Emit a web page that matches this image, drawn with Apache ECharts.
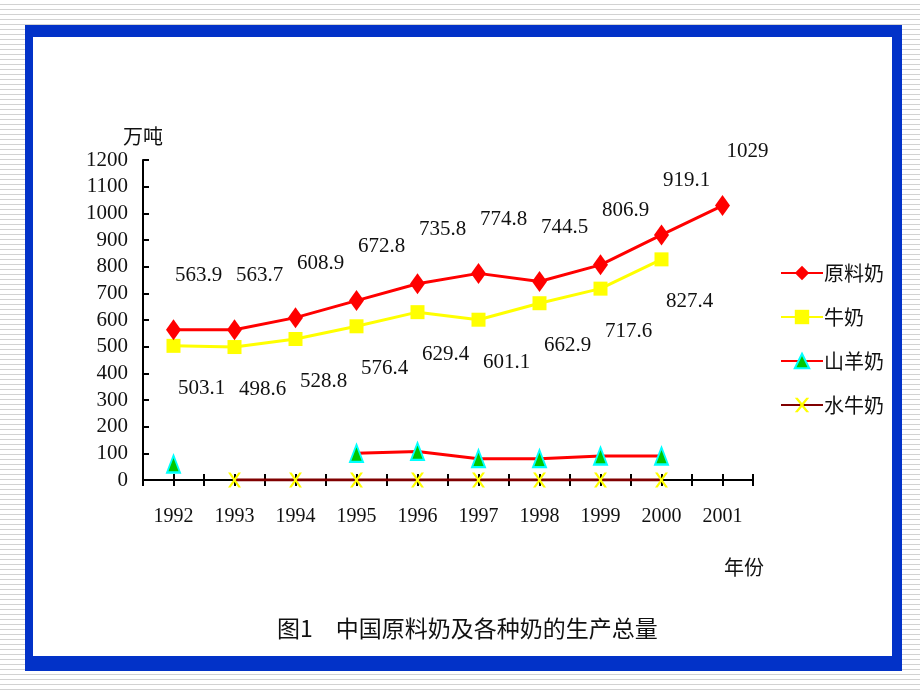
<!DOCTYPE html>
<html>
<head>
<meta charset="utf-8">
<style>
  html, body {
    margin: 0;
    padding: 0;
    width: 920px;
    height: 690px;
    overflow: hidden;
    background: repeating-linear-gradient(to bottom, #ffffff 0, #ffffff 4px, #d2d2d2 4px, #d2d2d2 5px);
  }
  .frame {
    position: absolute;
    left: 25px;
    top: 25px;
    width: 877px;
    height: 646px;
    background: #0232c8;
  }
  .paper {
    position: absolute;
    left: 33px;
    top: 37px;
    width: 859px;
    height: 619px;
    background: #ffffff;
  }
  .change {
    position: absolute;
    left: 0;
    top: 0;
    width: 920px;
    height: 690px;
  }
</style>
</head>
<body>
<div class="frame"></div>
<div class="paper"></div>
<div class="change"></div>
<script src="https://cdn.jsdelivr.net/npm/echarts/dist/echarts.min.js"></script>
<script>
// 年份
var years = ["1992", "1993", "1994", "1995", "1996", "1997", "1998", "1999", "2000", "2001"];
// 原料奶 (万吨)
var rawMilk = [563.9, 563.7, 608.9, 672.8, 735.8, 774.8, 744.5, 806.9, 919.1, 1029];
// 牛奶
var cowMilk = [503.1, 498.6, 528.8, 576.4, 629.4, 601.1, 662.9, 717.6, 827.4, null];
// 山羊奶
var goatMilk = [60, null, null, 100, 107, 80, 80, 90, 90, null];
// 水牛奶
var buffaloMilk = [null, 0, 0, 0, 0, 0, 0, 0, 0, null];
// 纵轴刻度
var yMin = 0, yMax = 1200, yStep = 100;

(function () {
  var myChart = echarts.init(document.querySelector(".change"));
  var numFont = "Liberation Serif";
  var cnFont = "Noto Sans CJK SC";
  var textColor = "#111111";
  // 叉形标记
  var crossPath = "path://M0,0 L2,0 L5,3.6 L8,0 L10,0 L6,5 L10,10 L8,10 L5,6.4 L2,10 L0,10 L4,5 Z";

  // 半格刻度用的辅助轴
  function tickAxis (inside) {
    return {
      type: "value",
      position: "bottom",
      min: 0,
      max: 20,
      interval: 1,
      axisLine: { show: false },
      axisLabel: { show: false },
      splitLine: { show: false },
      axisTick: {
        show: true,
        inside: inside,
        length: 6,
        lineStyle: { color: "#000", width: 2 }
      }
    };
  }

  var option = {
    animation: false,
    title: {
      text: "图1　中国原料奶及各种奶的生产总量",
      left: 272,
      top: 612,
      textStyle: {
        color: textColor,
        fontFamily: cnFont,
        fontWeight: "normal",
        fontSize: 23
      }
    },
    legend: {
      orient: "vertical",
      left: 775,
      top: 258,
      itemWidth: 42,
      itemHeight: 18,
      itemGap: 24,
      textStyle: {
        color: textColor,
        fontFamily: cnFont,
        fontSize: 20,
        padding: [0, 0, 0, -4]
      },
      data: ["原料奶", "牛奶", "山羊奶", "水牛奶"]
    },
    grid: {
      left: 143,
      top: 160,
      width: 610,
      height: 320
    },
    graphic: [{
      type: "text",
      left: 724,
      top: 557,
      style: {
        text: "年份",
        fill: textColor,
        font: "20px " + cnFont
      }
    }],
    xAxis: [{
      type: "category",
      boundaryGap: true,
      data: years,
      axisTick: { show: false },
      axisLine: {
        lineStyle: { color: "#000", width: 2 }
      },
      axisLabel: {
        color: textColor,
        fontFamily: numFont,
        fontSize: 20,
        margin: 27
      }
    }, tickAxis(false), tickAxis(true)],
    yAxis: {
      type: "value",
      min: yMin,
      max: yMax,
      interval: yStep,
      name: "万吨",
      nameGap: 14,
      nameTextStyle: {
        color: textColor,
        fontFamily: cnFont,
        fontSize: 20
      },
      axisLine: {
        show: true,
        lineStyle: { color: "#000", width: 2 }
      },
      axisTick: {
        show: true,
        inside: true,
        length: 6,
        lineStyle: { color: "#000", width: 2 }
      },
      axisLabel: {
        color: textColor,
        fontFamily: numFont,
        fontSize: 21,
        margin: 15,
        formatter: function (value) {
          return String(value);
        }
      },
      splitLine: { show: false }
    },
    series: [
      {
        name: "水牛奶",
        type: "line",
        data: buffaloMilk,
        symbol: crossPath,
        symbolSize: [13, 15],
        lineStyle: { color: "#800000", width: 3 },
        itemStyle: { color: "#ffff00" },
        z: 3
      },
      {
        name: "山羊奶",
        type: "line",
        data: goatMilk,
        symbol: "triangle",
        symbolSize: [13, 17],
        lineStyle: { color: "#ff0000", width: 3 },
        itemStyle: { color: "#00c800", borderColor: "#00ffff", borderWidth: 2 },
        z: 3
      },
      {
        name: "牛奶",
        type: "line",
        data: cowMilk,
        symbol: "rect",
        symbolSize: 14,
        lineStyle: { color: "#ffff00", width: 3 },
        itemStyle: { color: "#ffff00" },
        label: {
          show: true,
          position: "bottom",
          distance: 5,
          offset: [28, 20],
          color: textColor,
          fontFamily: numFont,
          fontSize: 21
        },
        z: 4
      },
      {
        name: "原料奶",
        type: "line",
        data: rawMilk,
        symbol: "diamond",
        symbolSize: [15, 21],
        lineStyle: { color: "#ff0000", width: 3 },
        itemStyle: { color: "#ff0000" },
        label: {
          show: true,
          position: "top",
          distance: 5,
          offset: [25, -28],
          color: textColor,
          fontFamily: numFont,
          fontSize: 21
        },
        z: 5
      }
    ]
  };
  myChart.setOption(option);
  window.addEventListener("resize", function () {
    myChart.resize();
  });
})();
</script>
</body>
</html>
